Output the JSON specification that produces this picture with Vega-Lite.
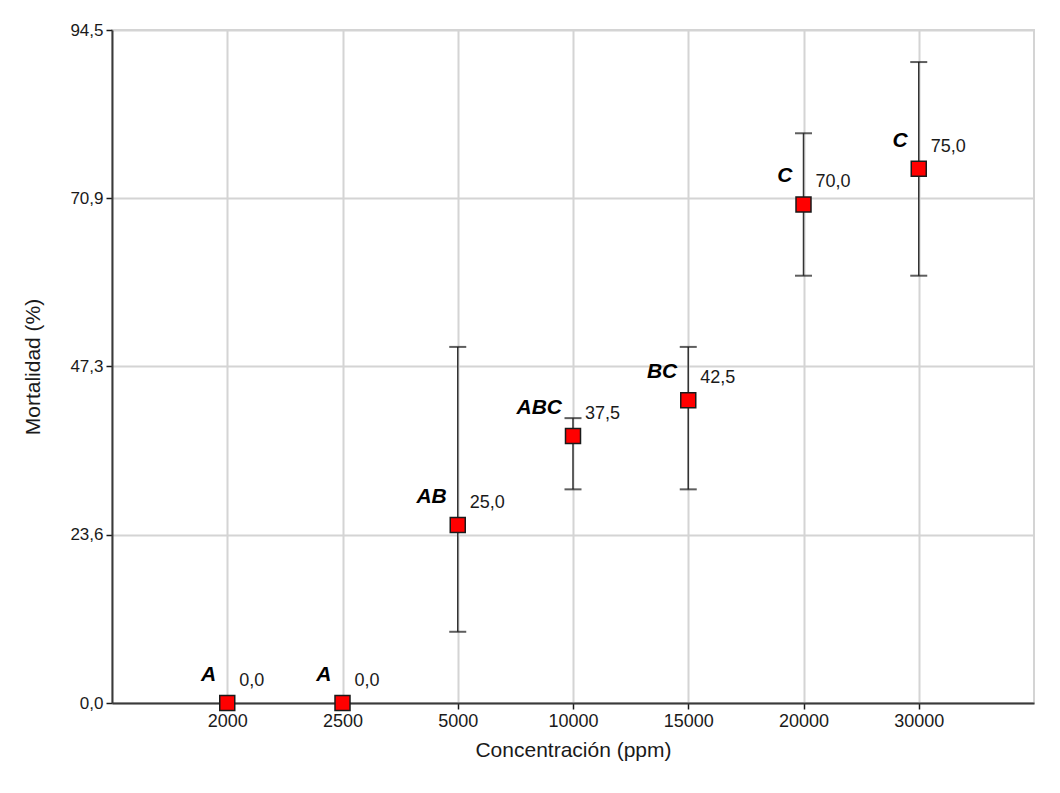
{
  "$schema": "https://vega.github.io/schema/vega-lite/v6.json",
  "width": 922,
  "height": 673,
  "autosize": {"type": "none"},
  "padding": {"left": 112, "top": 30, "right": 26, "bottom": 90},
  "background": "white",
  "config": {
    "font": "Liberation Sans",
    "view": {"stroke": "#d4d4d4", "strokeWidth": 2},
    "locale": {"number": {"decimal": ",", "thousands": ".", "grouping": [3], "currency": ["", " €"]}}
  },
  "data": {
    "values": [
      {"conc": "2000", "mort": 0.0, "lo": null, "hi": null, "grupo": "A"},
      {"conc": "2500", "mort": 0.0, "lo": null, "hi": null, "grupo": "A"},
      {"conc": "5000", "mort": 25.0, "lo": 10.0, "hi": 50.0, "grupo": "AB"},
      {"conc": "10000", "mort": 37.5, "lo": 30.0, "hi": 40.0, "grupo": "ABC"},
      {"conc": "15000", "mort": 42.5, "lo": 30.0, "hi": 50.0, "grupo": "BC"},
      {"conc": "20000", "mort": 70.0, "lo": 60.0, "hi": 80.0, "grupo": "C"},
      {"conc": "30000", "mort": 75.0, "lo": 60.0, "hi": 90.0, "grupo": "C"}
    ]
  },
  "encoding": {
    "x": {
      "field": "conc",
      "type": "ordinal",
      "sort": ["2000", "2500", "5000", "10000", "15000", "20000", "30000"],
      "scale": {"type": "point", "padding": 1, "domain": ["2000", "2500", "5000", "10000", "15000", "20000", "30000"]},
      "axis": {
        "title": "Concentración (ppm)",
        "titleFontSize": 21,
        "titleFontWeight": "normal",
        "titleColor": "#1a1a1a",
        "titlePadding": 9,
        "labelAngle": 0,
        "labelFontSize": 18,
        "labelColor": "#1a1a1a",
        "labelPadding": 3,
        "domainColor": "#3a3a3a",
        "domainWidth": 2,
        "tickColor": "#1a1a1a",
        "tickWidth": 1.5,
        "tickSize": 6,
        "grid": true,
        "gridColor": "#d4d4d4",
        "gridWidth": 2
      }
    }
  },
  "layer": [
    {
      "mark": {"type": "rule", "color": "#333333", "strokeWidth": 1.5},
      "encoding": {
        "y": {
          "field": "lo",
          "type": "quantitative",
          "scale": {"domain": [0, 94.5], "nice": false, "zero": false},
          "axis": {
            "title": "Mortalidad (%)",
            "titleFontSize": 21,
            "titleFontWeight": "normal",
            "titleColor": "#1a1a1a",
            "titlePadding": 26,
            "values": [0, 23.6, 47.3, 70.9, 94.5],
            "format": ".1f",
            "labelFontSize": 17,
            "labelColor": "#1a1a1a",
            "labelPadding": 3,
            "domainColor": "#3a3a3a",
            "domainWidth": 2,
            "tickColor": "#1a1a1a",
            "tickWidth": 1.5,
            "tickSize": 6,
            "grid": true,
            "gridColor": "#d4d4d4",
            "gridWidth": 2
          }
        },
        "y2": {"field": "hi"}
      }
    },
    {
      "mark": {"type": "tick", "color": "#1a1a1a", "thickness": 2, "size": 17},
      "encoding": {"y": {"field": "lo", "type": "quantitative"}}
    },
    {
      "mark": {"type": "tick", "color": "#1a1a1a", "thickness": 2, "size": 17},
      "encoding": {"y": {"field": "hi", "type": "quantitative"}}
    },
    {
      "mark": {"type": "point", "shape": "square", "filled": true, "size": 225, "fill": "#ff0000", "stroke": "#1a1a1a", "strokeWidth": 1.5, "opacity": 1},
      "encoding": {"y": {"field": "mort", "type": "quantitative"}}
    },
    {
      "mark": {"type": "text", "align": "left", "baseline": "middle", "dx": 12, "dy": -22, "fontSize": 18, "color": "#1a1a1a"},
      "encoding": {
        "y": {"field": "mort", "type": "quantitative"},
        "text": {"field": "mort", "type": "quantitative", "format": ".1f"}
      }
    },
    {
      "mark": {"type": "text", "align": "right", "baseline": "middle", "dx": -11, "dy": -28, "fontSize": 21, "fontWeight": "bold", "fontStyle": "italic", "color": "#000000"},
      "encoding": {
        "y": {"field": "mort", "type": "quantitative"},
        "text": {"field": "grupo", "type": "nominal"}
      }
    }
  ]
}
